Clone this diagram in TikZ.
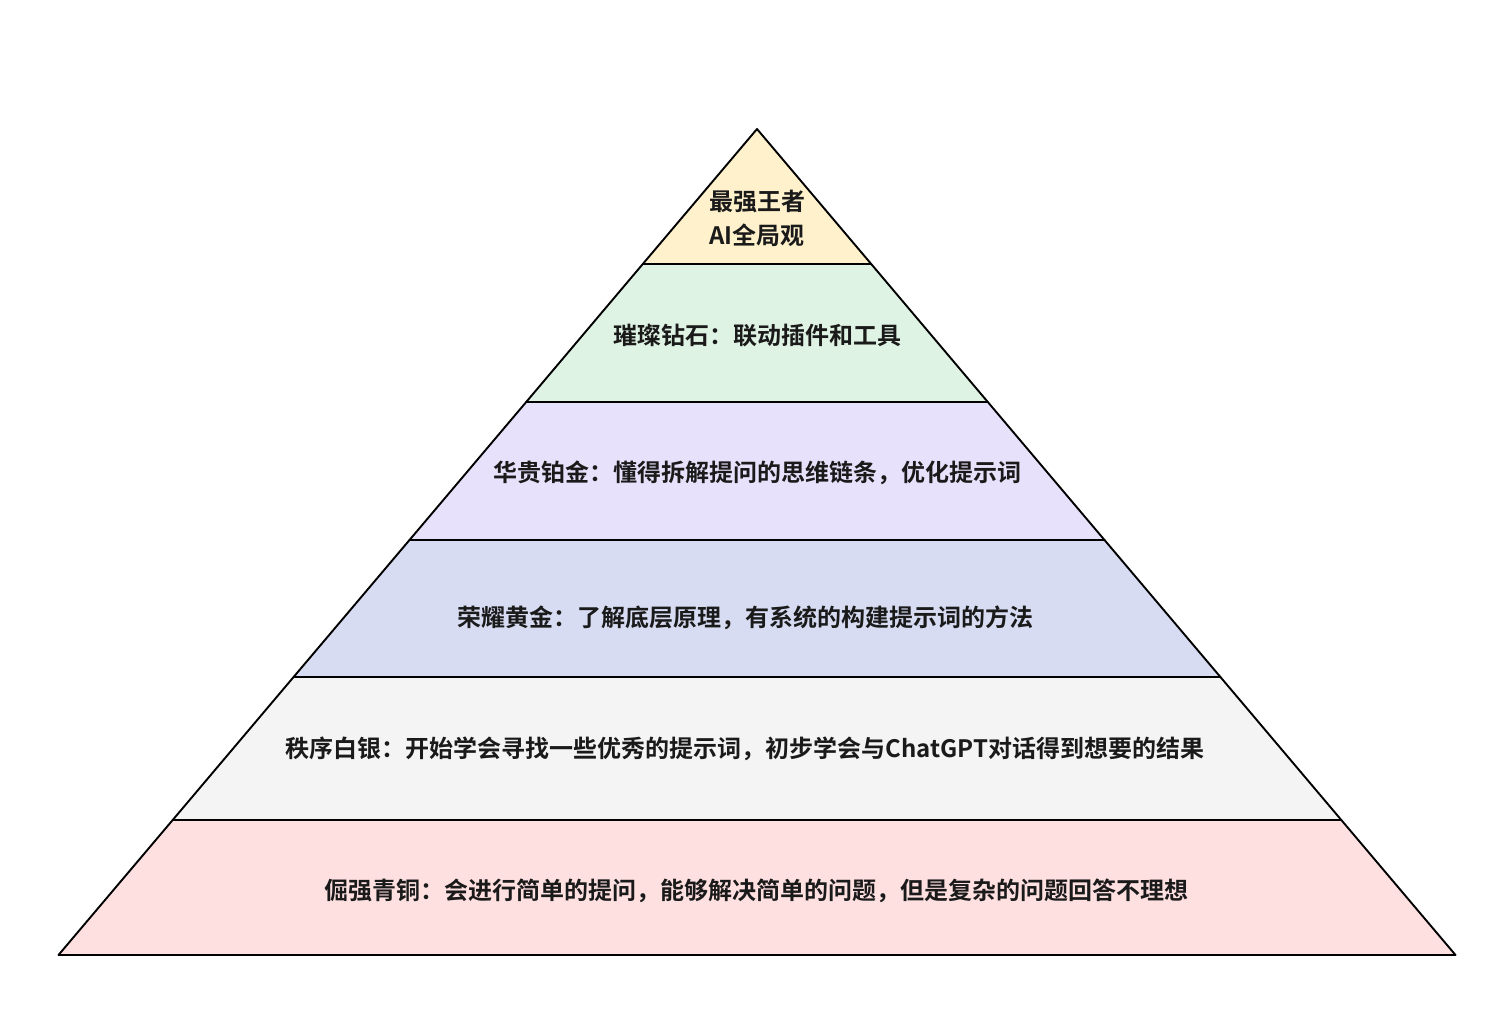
\documentclass[tikz,border=0pt]{standalone}
\usepackage{fontspec}
\setmainfont{Noto Sans CJK SC}[BoldFont={* Bold}]
\definecolor{c1}{HTML}{FFF1CC}
\definecolor{c2}{HTML}{DFF3E4}
\definecolor{c3}{HTML}{E8E1FB}
\definecolor{c4}{HTML}{D7DCF3}
\definecolor{c5}{HTML}{F4F4F4}
\definecolor{c6}{HTML}{FEE0E1}
\definecolor{tx}{HTML}{1A1A1A}
\tikzset{band/.style={draw=black,line width=1.9pt,line join=round},
lbl/.style={font=\fontsize{24}{34}\selectfont\bfseries,text=tx,align=center}}
\begin{document}
\begin{tikzpicture}[x=1pt,y=-1pt]
\useasboundingbox (0,0) rectangle (1499,1014);
\fill[white] (0,0) rectangle (1499,1014);
\draw[band,fill=c6] (172.7,820) -- (1341.3,820) -- (1455.5,955) -- (58.5,955) -- cycle;
\draw[band,fill=c5] (293.6,677) -- (1220.4,677) -- (1341.3,820) -- (172.7,820) -- cycle;
\draw[band,fill=c4] (409.5,540) -- (1104.5,540) -- (1220.4,677) -- (293.6,677) -- cycle;
\draw[band,fill=c3] (526.2,402) -- (987.8,402) -- (1104.5,540) -- (409.5,540) -- cycle;
\draw[band,fill=c2] (642.8,264) -- (871.2,264) -- (987.8,402) -- (526.2,402) -- cycle;
\draw[band,fill=c1] (757,129) -- (871.2,264) -- (642.8,264) -- cycle;
\node[lbl] (t1) at (757,218) {最强王者\\AI全局观};
\node[lbl] (t2) at (757,336) {璀璨钻石：联动插件和工具};
\node[lbl] (t3) at (757,473) {华贵铂金：懂得拆解提问的思维链条，优化提示词};
\node[lbl] (t4) at (745,618) {荣耀黄金：了解底层原理，有系统的构建提示词的方法};
\node[lbl] (t5) at (745,749) {秩序白银：开始学会寻找一些优秀的提示词，初步学会与ChatGPT对话得到想要的结果};
\node[lbl] (t6) at (756,891) {倔强青铜：会进行简单的提问，能够解决简单的问题，但是复杂的问题回答不理想};
\end{tikzpicture}
\end{document}
